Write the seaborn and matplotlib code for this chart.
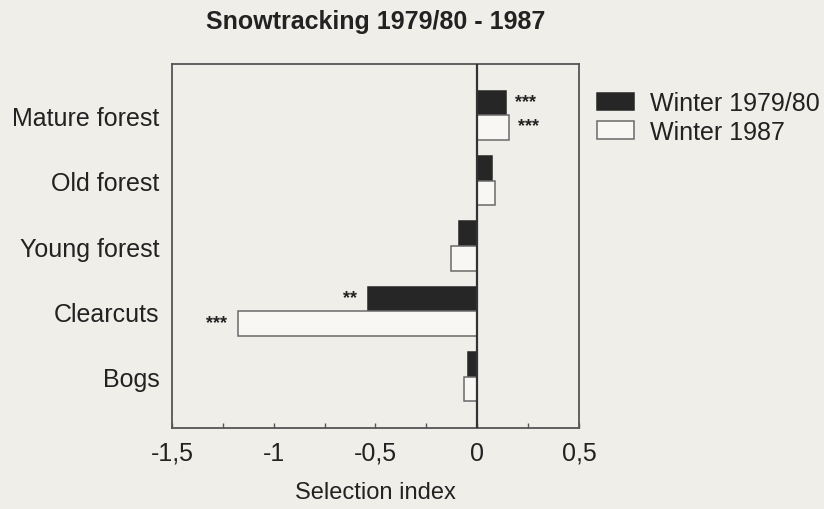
import pandas as pd
import numpy as np
import seaborn as sns
import matplotlib.pyplot as plt
from matplotlib.ticker import MultipleLocator

# Data
habitats = ["Mature forest", "Old forest", "Young forest", "Clearcuts", "Bogs"]
seasons = ["Winter 1979/80", "Winter 1987"]
winter_1980 = [0.143, 0.074, -0.088, -0.536, -0.044]
winter_1987 = [0.157, 0.088, -0.128, -1.174, -0.064]
x_ticks = [-1.5, -1, -0.5, 0, 0.5]
x_tick_labels = ["-1,5", "-1", "-0,5", "0", "0,5"]
# significance marks next to the bars
sig_habitat = ["Mature forest", "Mature forest", "Clearcuts", "Clearcuts"]
sig_season = ["Winter 1979/80", "Winter 1987", "Winter 1979/80", "Winter 1987"]
sig_stars = ["***", "***", "**", "***"]

df = pd.DataFrame({
    "habitat": habitats * 2,
    "season": [seasons[0]] * 5 + [seasons[1]] * 5,
    "value": winter_1980 + winter_1987,
})

bg = "#efeee9"
sns.set_theme(style="white")
plt.rcParams["font.family"] = ["Liberation Sans", "DejaVu Sans"]
plt.rcParams["text.color"] = "#222222"

fig = plt.figure(figsize=(8.24, 5.10), dpi=100, facecolor=bg)
ax = fig.add_axes([0.2087, 0.1588, 0.494, 0.7137])
ax.set_facecolor(bg)

sns.barplot(data=df, x="value", y="habitat", hue="season", order=habitats,
            hue_order=seasons, palette={seasons[0]: "#262626", seasons[1]: "#f8f7f3"},
            orient="h", width=0.75, saturation=1, linewidth=1.1, legend=False, ax=ax)

edge_cols = ["#262626", "#6a6a6a"]
for cont, ec in zip(ax.containers, edge_cols):
    for bar in cont:
        bar.set_edgecolor(ec)

ax.axvline(0, color="#333333", lw=1.6, zorder=3)

# stars just beyond the end of each marked bar
for hab, sea, stars in zip(sig_habitat, sig_season, sig_stars):
    bar = ax.containers[seasons.index(sea)][habitats.index(hab)]
    val = df[(df.habitat == hab) & (df.season == sea)]["value"].iloc[0]
    yc = bar.get_y() + bar.get_height() / 2
    off = 6 if val > 0 else -8
    ax.annotate(stars, (val, yc), xytext=(off, 1), textcoords="offset points",
                ha="left" if val > 0 else "right", va="center",
                fontsize=13, fontweight="bold", color="#222222")

ax.set_xlim(-1.5, 0.5)
ax.set_ylim(4.78, -0.78)
ax.set_xticks(x_ticks)
ax.set_xticklabels(x_tick_labels)
ax.xaxis.set_minor_locator(MultipleLocator(0.25))
ax.tick_params(axis="x", which="both", direction="in", length=3.5, width=1,
               color="#555555", bottom=True, labelsize=18, pad=9, labelcolor="#222222")
ax.tick_params(axis="y", length=0, labelsize=18, pad=9, labelcolor="#222222")
ax.set_ylabel("")
ax.set_xlabel("Selection index", fontsize=17, labelpad=12, color="#222222")
ax.set_title("Snowtracking 1979/80 - 1987", fontsize=18, fontweight="bold", pad=26,
             color="#222222")

for sp in ax.spines.values():
    sp.set_visible(True)
    sp.set_color("#555555")
    sp.set_linewidth(1.3)

leg = ax.legend(ax.containers, seasons, loc="upper left", bbox_to_anchor=(0.724, 0.819),
                bbox_transform=fig.transFigure, frameon=False, fontsize=18,
                handlelength=1.5, handleheight=0.7, handletextpad=0.65,
                labelspacing=0.17, borderpad=0, borderaxespad=0)

fig.savefig("out.png", dpi=100, facecolor=bg)
